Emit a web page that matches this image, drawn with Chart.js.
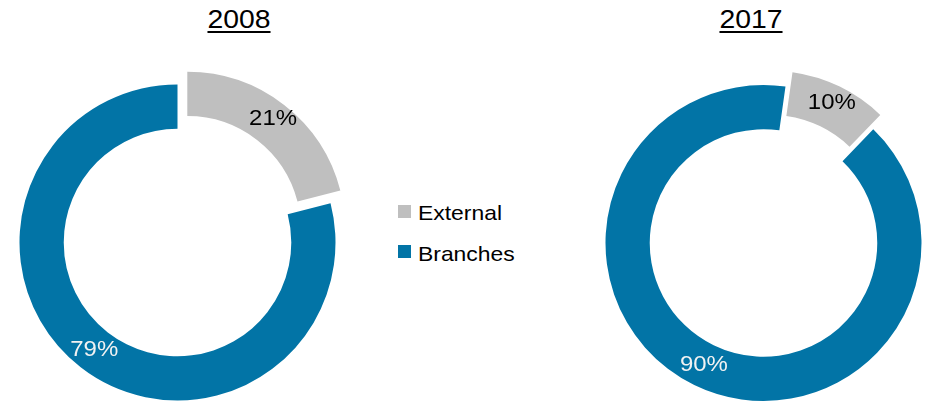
<!DOCTYPE html>
<html>
<head>
<meta charset="utf-8">
<script src="https://cdn.jsdelivr.net/npm/chart.js@4.4.1/dist/chart.umd.min.js"></script>
<style>
  html, body { margin: 0; padding: 0; background: #ffffff; width: 936px; height: 412px; overflow: hidden; position: relative; font-family: "Liberation Sans", Arial, sans-serif; }
  .box { position: absolute; }
  .title { position: absolute; font-size: 26px; line-height: 26px; color: #000; text-decoration: underline; text-decoration-thickness: 2px; text-underline-offset: 3px; transform: translateX(-50%) scaleX(1.09); white-space: nowrap; }
  .leg { position: absolute; left: 398px; font-size: 21px; line-height: 21px; color: #000; white-space: nowrap; }
  .sw { position: absolute; left: 0; width: 12.5px; height: 12.5px; }
  .lt { position: absolute; left: 19.5px; top: 0; display: inline-block; transform: scaleX(1.09); transform-origin: left center; }
</style>
</head>
<body>
<div class="title" id="t0" style="left:239px; top:6.3px;"></div>
<div class="title" id="t1" style="left:751px; top:6.3px;"></div>
<div class="box" style="left:0px; top:0px; width:355px; height:412px;"><canvas id="c0"></canvas></div>
<div class="box" style="left:591px; top:0px; width:345px; height:412px;"><canvas id="c1"></canvas></div>
<div id="legend"></div>
<script>
const categories = ['External', 'Branches'];
const years = ['2008', '2017'];
const values2008 = [21, 79];
const values2017 = [10, 90];

const colors = ['#BFBFBF', '#0274A6'];
const labelColors = ['#000000', '#F2F2F2'];
const explode = [16, 0];

document.getElementById('t0').textContent = years[0];
document.getElementById('t1').textContent = years[1];

// legend
const legend = document.getElementById('legend');
const legTops = [201.5, 243.2];
const swTops = [3.5, 2.3];
categories.forEach((c, i) => {
  const d = document.createElement('div');
  d.className = 'leg';
  d.style.top = legTops[i] + 'px';
  const s = document.createElement('span');
  s.className = 'sw';
  s.style.background = colors[i];
  s.style.top = swTops[i] + 'px';
  const t = document.createElement('span');
  t.className = 'lt';
  t.textContent = c;
  d.appendChild(s); d.appendChild(t);
  legend.appendChild(d);
});

// Draw arcs with a pure translation "explode" (no radius growth)
const explodePlugin = {
  id: 'explodeSlices',
  beforeDatasetDraw(chart, args) {
    const ctx = chart.ctx;
    const meta = args.meta;
    meta.data.forEach((arc, i) => {
      const p = arc.getProps(['startAngle', 'endAngle']);
      const mid = (p.startAngle + p.endAngle) / 2;
      const d = explode[i] || 0;
      ctx.save();
      ctx.translate(Math.cos(mid) * d, Math.sin(mid) * d);
      arc.draw(ctx, chart.chartArea);
      ctx.restore();
    });
    return false;
  }
};

const labelPlugin = {
  id: 'sliceLabels',
  afterDatasetsDraw(chart) {
    const ctx = chart.ctx;
    const meta = chart.getDatasetMeta(0);
    const data = chart.data.datasets[0].data;
    ctx.save();
    ctx.font = '22px "Liberation Sans", Arial, sans-serif';
    ctx.textAlign = 'center';
    ctx.textBaseline = 'middle';
    meta.data.forEach((arc, i) => {
      const p = arc.getProps(['x', 'y', 'startAngle', 'endAngle', 'innerRadius', 'outerRadius']);
      const off = explode[i] || 0;
      const mid = (p.startAngle + p.endAngle) / 2;
      const r = (p.innerRadius + p.outerRadius) / 2 + off * 1.25;
      const lx = p.x + Math.cos(mid) * r;
      const ly = p.y + Math.sin(mid) * r;
      ctx.save();
      ctx.translate(lx, ly);
      ctx.scale(1.09, 1);
      ctx.fillStyle = labelColors[i];
      ctx.fillText(data[i] + '%', 0, 0);
      ctx.restore();
    });
    ctx.restore();
  }
};

function makeChart(id, values, rotation, padTop) {
  return new Chart(document.getElementById(id), {
    type: 'doughnut',
    data: {
      labels: categories,
      datasets: [{
        data: values,
        backgroundColor: colors,
        borderWidth: 0,
        offset: 0,
        hoverOffset: 0
      }]
    },
    options: {
      responsive: true,
      maintainAspectRatio: false,
      animation: false,
      radius: 158,
      cutout: '72%',
      rotation: rotation,
      layout: { padding: { top: padTop, left: 0, right: 0, bottom: 0 } },
      plugins: { legend: { display: false }, tooltip: { enabled: false }, title: { display: false } },
      events: []
    },
    plugins: [explodePlugin, labelPlugin]
  });
}

makeChart('c0', values2008, 0, 73);
makeChart('c1', values2017, 8, 74);
</script>
</body>
</html>
